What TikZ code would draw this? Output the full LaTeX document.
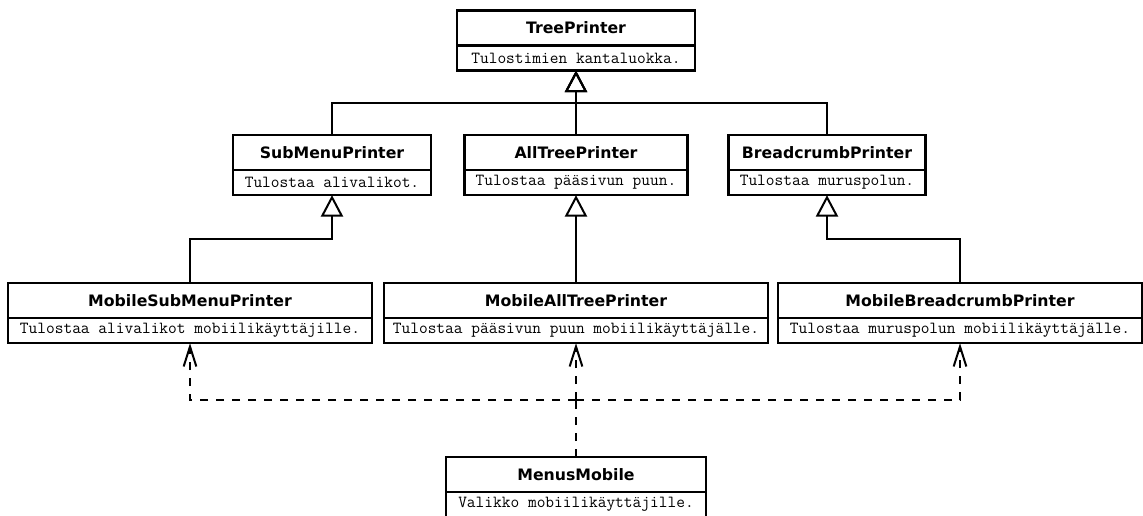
\documentclass[tikz,border=0pt]{standalone}
\usepackage{fontspec}
\newfontfamily\umlsans{DejaVu Sans}
\usetikzlibrary{arrows.meta,positioning,calc}

\begin{document}
\begin{tikzpicture}[x=0.75pt,y=-0.75pt,
cls/.style={rectangle, draw, line width=1.9pt, outer sep=0pt, inner sep=2pt, minimum height=26pt, font=\umlsans\bfseries\fontsize{11.8}{14}\selectfont},
dsc/.style={rectangle, draw, line width=1.9pt, outer sep=0pt, inner sep=2pt, minimum height=19pt, font=\ttfamily\fontsize{12.7}{14}\selectfont},
inh/.style={line width=1.5pt, -{Triangle[open, length=16pt, width=16.5pt, line width=1.5pt]}},
dep/.style={line width=1.5pt, dash pattern=on 6pt off 6pt, -{Straight Barb[length=15pt, width=9.5pt, line width=1.5pt]}}]

\useasboundingbox (0,0) rectangle (1143,515);

\draw (576,28) node[cls, minimum width=178.5pt] (TP) {TreePrinter};
\node[dsc, minimum width=178.5pt, below=0pt of TP] (TPd) {Tulostimien kantaluokka.};

\draw (332,152.5) node[cls, minimum width=148.5pt] (SM) {SubMenuPrinter};
\node[dsc, minimum width=148.5pt, below=0pt of SM] (SMd) {Tulostaa alivalikot.};
\draw (576,152.5) node[cls, minimum width=167pt] (AT) {AllTreePrinter};
\node[dsc, minimum width=167pt, below=0pt of AT] (ATd) {Tulostaa pääsivun puun.};
\draw (827,152.5) node[cls, minimum width=148pt] (BC) {BreadcrumbPrinter};
\node[dsc, minimum width=148pt, below=0pt of BC] (BCd) {Tulostaa muruspolun.};

\draw (190,300.5) node[cls, minimum width=273pt] (MSM) {MobileSubMenuPrinter};
\node[dsc, minimum width=273pt, below=0pt of MSM] (MSMd) {Tulostaa alivalikot mobiilikäyttäjille.};
\draw (576,300.5) node[cls, minimum width=288pt] (MAT) {MobileAllTreePrinter};
\node[dsc, minimum width=288pt, below=0pt of MAT] (MATd) {Tulostaa pääsivun puun mobiilikäyttäjälle.};
\draw (960,300.5) node[cls, minimum width=273pt] (MBC) {MobileBreadcrumbPrinter};
\node[dsc, minimum width=273pt, below=0pt of MBC] (MBCd) {Tulostaa muruspolun mobiilikäyttäjälle.};

\draw (576,474.5) node[cls, minimum width=195pt] (MM) {MenusMobile};
\node[dsc, minimum width=195pt, below=0pt of MM] (MMd) {Valikko mobiilikäyttäjille.};

\coordinate (J) at (576,400);

\draw[inh] (SM.north) |- ($(SM.north)!.5!(TPd.south)$) -| (TPd.south);
\draw[inh] (BC.north) |- ($(BC.north)!.5!(TPd.south)$) -| (TPd.south);
\draw[inh] (AT.north) -- (TPd.south);
\draw[inh] (MSM.north) |- ($(MSM.north)!.5!(SMd.south)$) -| (SMd.south);
\draw[inh] (MBC.north) |- ($(MBC.north)!.5!(BCd.south)$) -| (BCd.south);
\draw[inh] (MAT.north) -- (ATd.south);

\draw[line width=1.5pt, dash pattern=on 6pt off 6pt] (MM.north) -- (J);
\draw[dep] (J) -| (MSMd.south);
\draw[dep] (J) -| (MBCd.south);
\draw[dep] (J) -- (MATd.south);

\end{tikzpicture}
\end{document}
